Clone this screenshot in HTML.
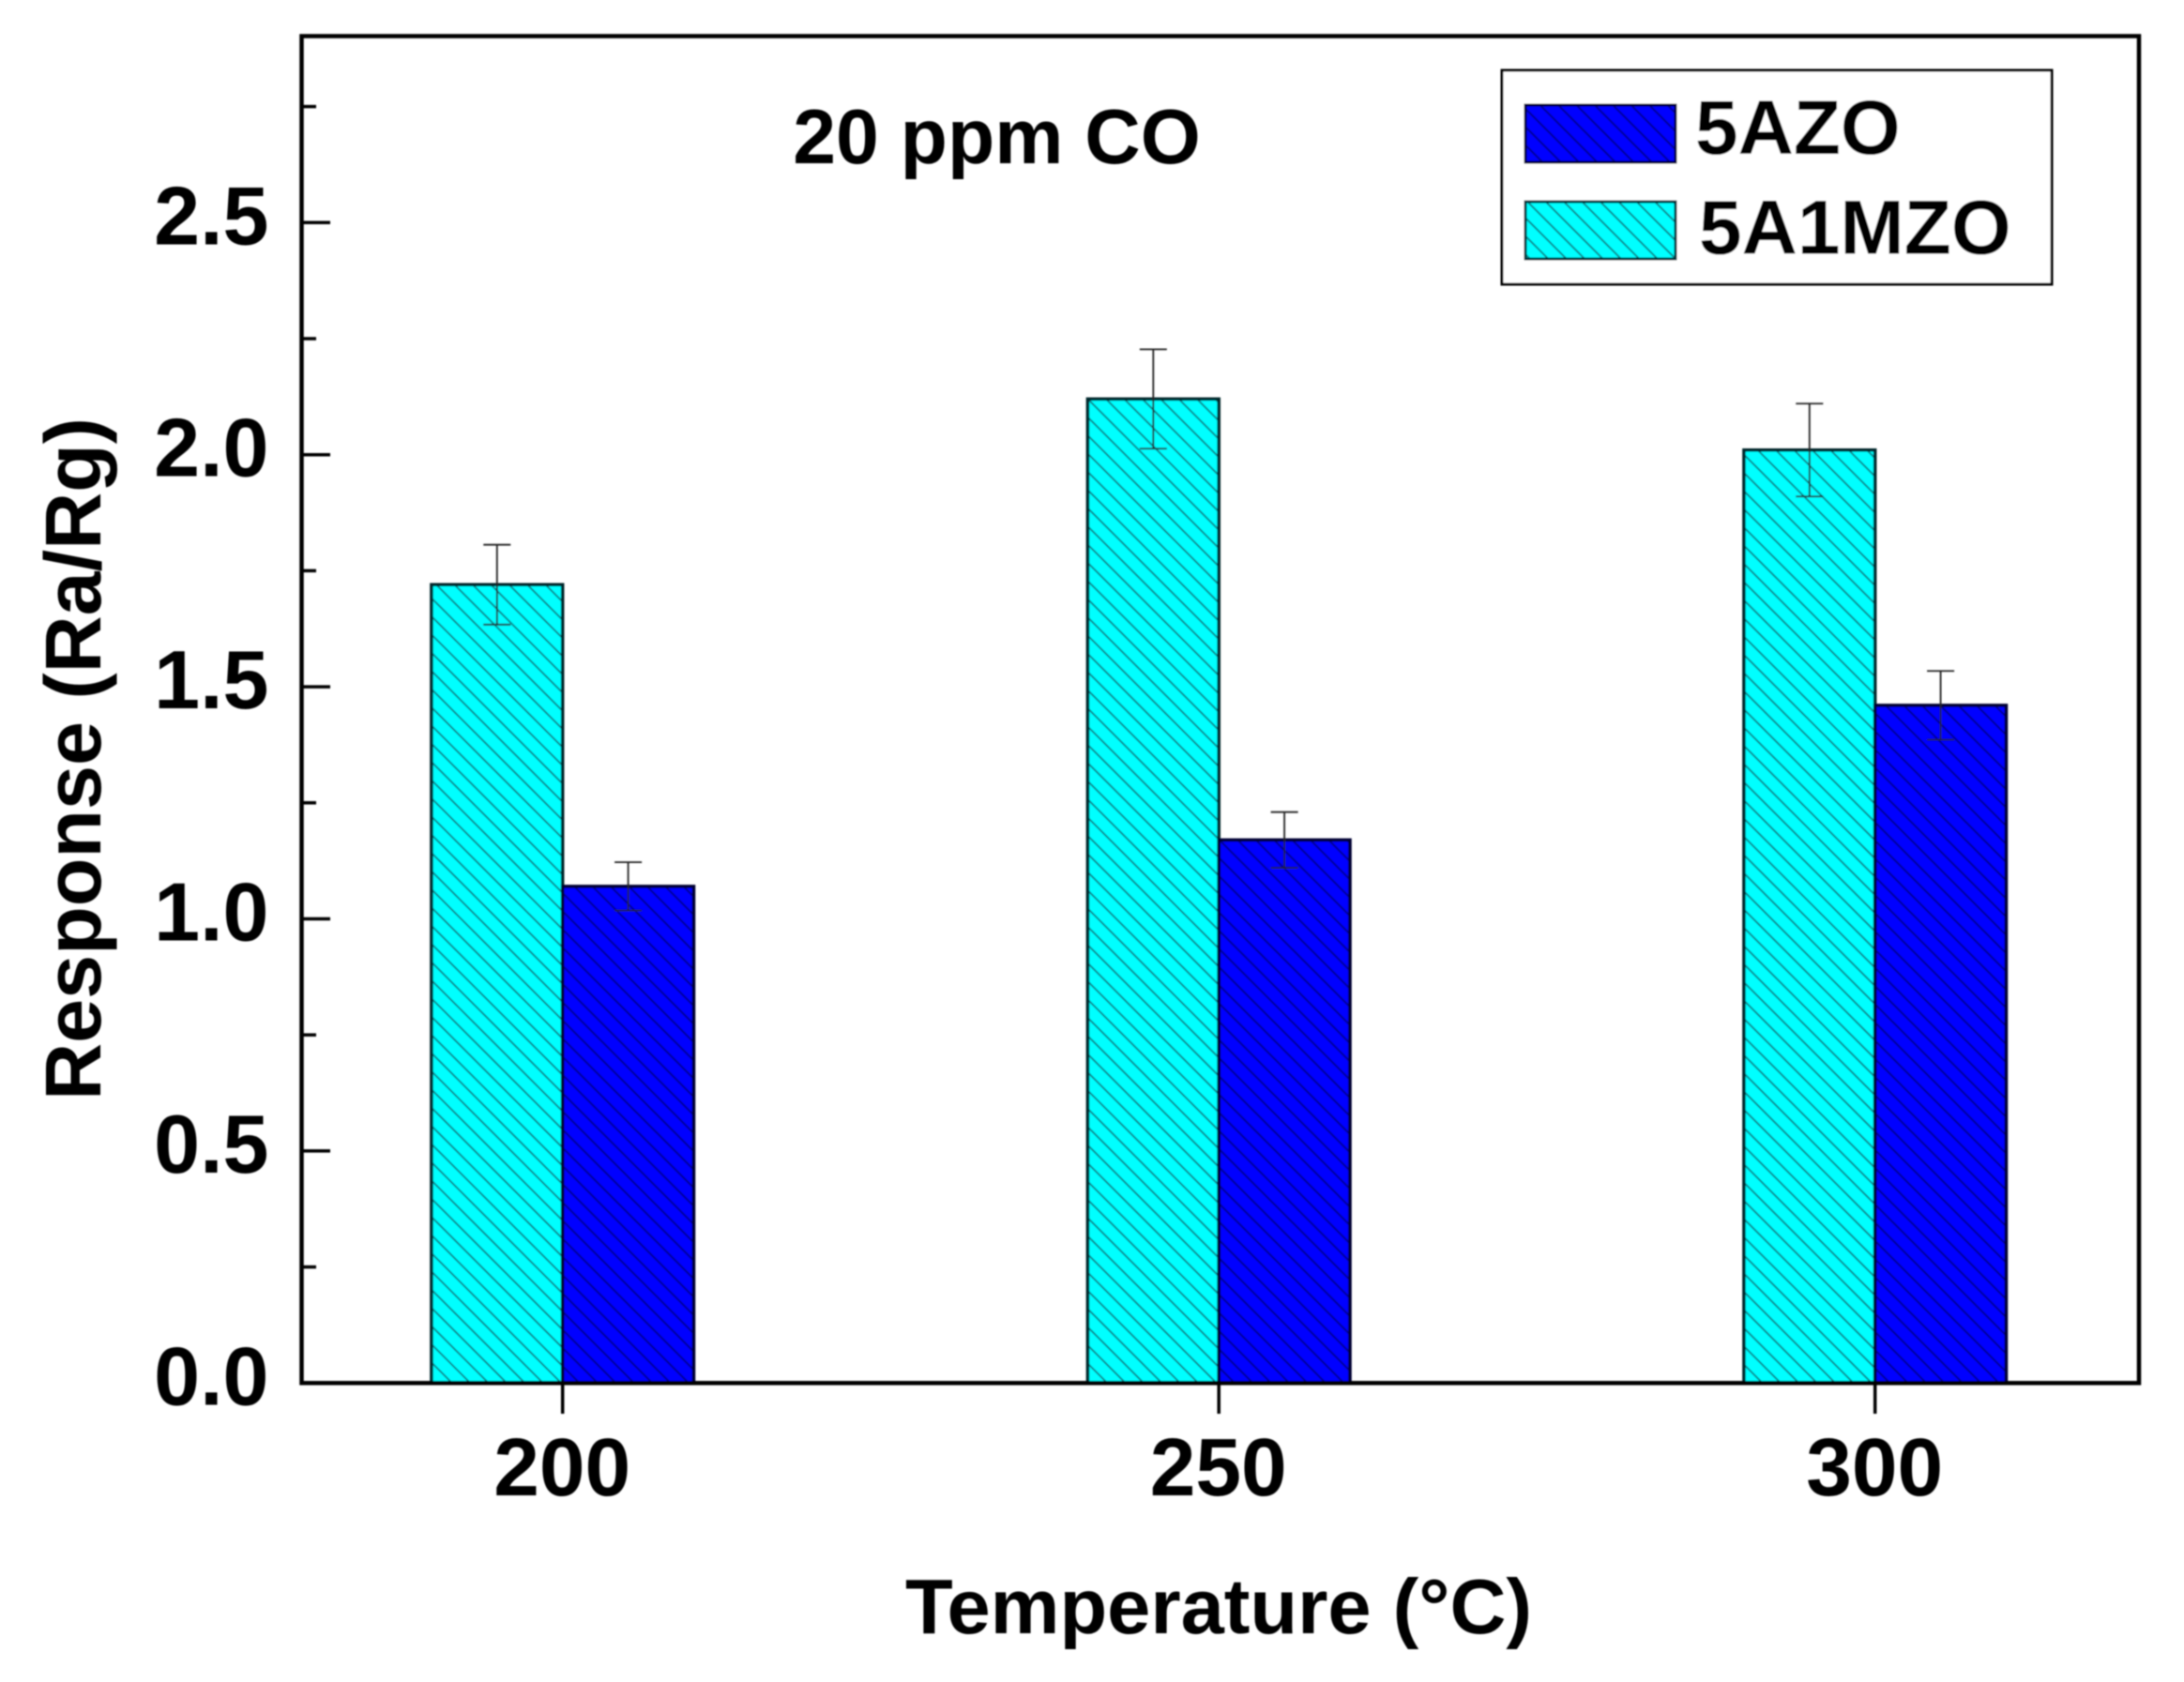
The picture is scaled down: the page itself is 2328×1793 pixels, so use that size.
<!DOCTYPE html>
<html lang="en">
<head>
<meta charset="utf-8">
<title>Response vs Temperature, 20 ppm CO</title>
<style>
html,body{margin:0;padding:0;background:#fff;width:2328px;height:1793px;overflow:hidden}
svg{display:block}
text{font-family:"Liberation Sans",Arial,sans-serif;font-weight:700;fill:#000}
</style>
</head>
<body>
<svg id="chart" xmlns="http://www.w3.org/2000/svg" width="2328" height="1793" viewBox="0 0 2328 1793">
  <defs>
    <filter id="soft" x="-2%" y="-2%" width="104%" height="104%"><feGaussianBlur stdDeviation="0.7"/></filter>
    <pattern id="hatch-cyan" patternUnits="userSpaceOnUse" width="19.4" height="19.4" patternTransform="translate(0,3)">
      <rect width="19.4" height="19.4" fill="#00ffff"/>
      <path d="M-2,-2 L21.4,21.4" stroke="#0a6a70" stroke-width="1.6"/>
      <path d="M-2,17.4 L2,21.4 M17.4,-2 L21.4,2" stroke="#0a6a70" stroke-width="1.6"/>
    </pattern>
    <pattern id="hatch-blue" patternUnits="userSpaceOnUse" width="19.4" height="19.4" patternTransform="translate(0,3)">
      <rect width="19.4" height="19.4" fill="#0000ff"/>
      <path d="M-2,-2 L21.4,21.4" stroke="#000088" stroke-width="1.8"/>
      <path d="M-2,17.4 L2,21.4 M17.4,-2 L21.4,2" stroke="#000088" stroke-width="1.8"/>
    </pattern>
  </defs>
  <g id="plot" filter="url(#soft)">
    <g id="bars"></g>
    <g id="errors"></g>
    <g id="ticks"></g>
    <rect x="321.5" y="38.5" width="1958.5" height="1435.8" fill="none" stroke="#000" stroke-width="4.5"/>
    <g id="tick-labels"></g>
    <text x="1062.5" y="174" font-size="82.3" text-anchor="middle">20 ppm CO</text>
    <text x="1299" y="1741" font-size="83" text-anchor="middle">Temperature (°C)</text>
    <text transform="translate(107,809) rotate(-90)" font-size="84.5" text-anchor="middle">Response (Ra/Rg)</text>
    <g>
      <rect x="1601" y="75" width="586" height="228" fill="#fff" stroke="#000" stroke-width="3"/>
      <rect x="1626" y="112" width="160" height="61" fill="url(#hatch-blue)" stroke="#00003c" stroke-width="3"/>
      <text x="1807" y="164" font-size="82">5AZO</text>
      <rect x="1626" y="215" width="160" height="61" fill="url(#hatch-cyan)" stroke="#003338" stroke-width="3"/>
      <text x="1811" y="270.5" font-size="82">5A1MZO</text>
    </g>
  </g>
</svg>
<script>
const categories = [200, 250, 300];
const cyanValues = [1.72, 2.12, 2.01];
const blueValues = [1.07, 1.17, 1.46];
const cyanErrors = [0.086, 0.107, 0.10];
const blueErrors = [0.052, 0.06, 0.074];
const yMajorTicks = ['0.0', '0.5', '1.0', '1.5', '2.0', '2.5'];
const yMinorTicks = [0.25, 0.75, 1.25, 1.75, 2.25, 2.75];

const NS = 'http://www.w3.org/2000/svg';
function xScale(v) { return 599.7 + (v - 200) * 13.99; }
function yScale(v) { return 1474.3 - v * 494.8; }
const barWidth = 10 * 13.98;

function make(tag, parent) {
  const el = document.createElementNS(NS, tag);
  parent.appendChild(el);
  return el;
}
function setLine(el, x1, y1, x2, y2, width, color) {
  el.setAttribute('x1', x1);
  el.setAttribute('y1', y1);
  el.setAttribute('x2', x2);
  el.setAttribute('y2', y2);
  el.setAttribute('stroke', color);
  el.setAttribute('stroke-width', width);
}

const barsG = document.getElementById('bars');
const errorsG = document.getElementById('errors');
const ticksG = document.getElementById('ticks');
const labelsG = document.getElementById('tick-labels');

function drawBar(cat, value, offset, fill, edge, name) {
  const x = xScale(cat) + offset;
  const y = yScale(value);
  const el = make('rect', barsG);
  
  
  el.setAttribute('x', x);
  el.setAttribute('y', y);
  el.setAttribute('width', barWidth);
  el.setAttribute('height', yScale(0) - y);
  el.setAttribute('fill', fill);
  el.setAttribute('stroke', edge);
  el.setAttribute('stroke-width', 3.5);
}

function drawError(cat, value, err, offset, name) {
  const cx = xScale(cat) + offset + barWidth / 2;
  const top = yScale(value + err);
  const bottom = yScale(value - err);
  const stem = make('line', errorsG);
  
  
  setLine(stem, cx, top, cx, bottom, 1.8, '#222');
  const capTop = make('line', errorsG);
  
  
  setLine(capTop, cx - 14.5, top, cx + 14.5, top, 1.8, '#222');
  const capBottom = make('line', errorsG);
  
  
  setLine(capBottom, cx - 14.5, bottom, cx + 14.5, bottom, 1.8, '#222');
}

categories.forEach(function (cat, i) {
  drawBar(cat, cyanValues[i], -barWidth, 'url(#hatch-cyan)', '#00282c', 'cyan');
  drawBar(cat, blueValues[i], 0, 'url(#hatch-blue)', '#000033', 'blue');
  drawError(cat, cyanValues[i], cyanErrors[i], -barWidth, 'cyan');
  drawError(cat, blueValues[i], blueErrors[i], 0, 'blue');

  const tick = make('line', ticksG);
  
  
  setLine(tick, xScale(cat), 1474, xScale(cat), 1507, 3.5, '#000');

  const label = make('text', labelsG);
  
  
  label.setAttribute('x', xScale(cat) - 0.5);
  label.setAttribute('y', 1594);
  label.setAttribute('font-size', 87.5);
  label.setAttribute('text-anchor', 'middle');
  label.textContent = String(cat);
});

yMajorTicks.forEach(function (t) {
  const v = parseFloat(t);
  const tick = make('line', ticksG);
  
  
  setLine(tick, 321, yScale(v), 352, yScale(v), 3.5, '#000');

  const label = make('text', labelsG);
  
  
  label.setAttribute('x', 286.5);
  label.setAttribute('y', yScale(v) + 23);
  label.setAttribute('font-size', 88);
  label.setAttribute('text-anchor', 'end');
  label.textContent = t;
});

yMinorTicks.forEach(function (v) {
  const tick = make('line', ticksG);
  
  
  setLine(tick, 321, yScale(v), 337, yScale(v), 3.5, '#000');
});
</script>
</body>
</html>
